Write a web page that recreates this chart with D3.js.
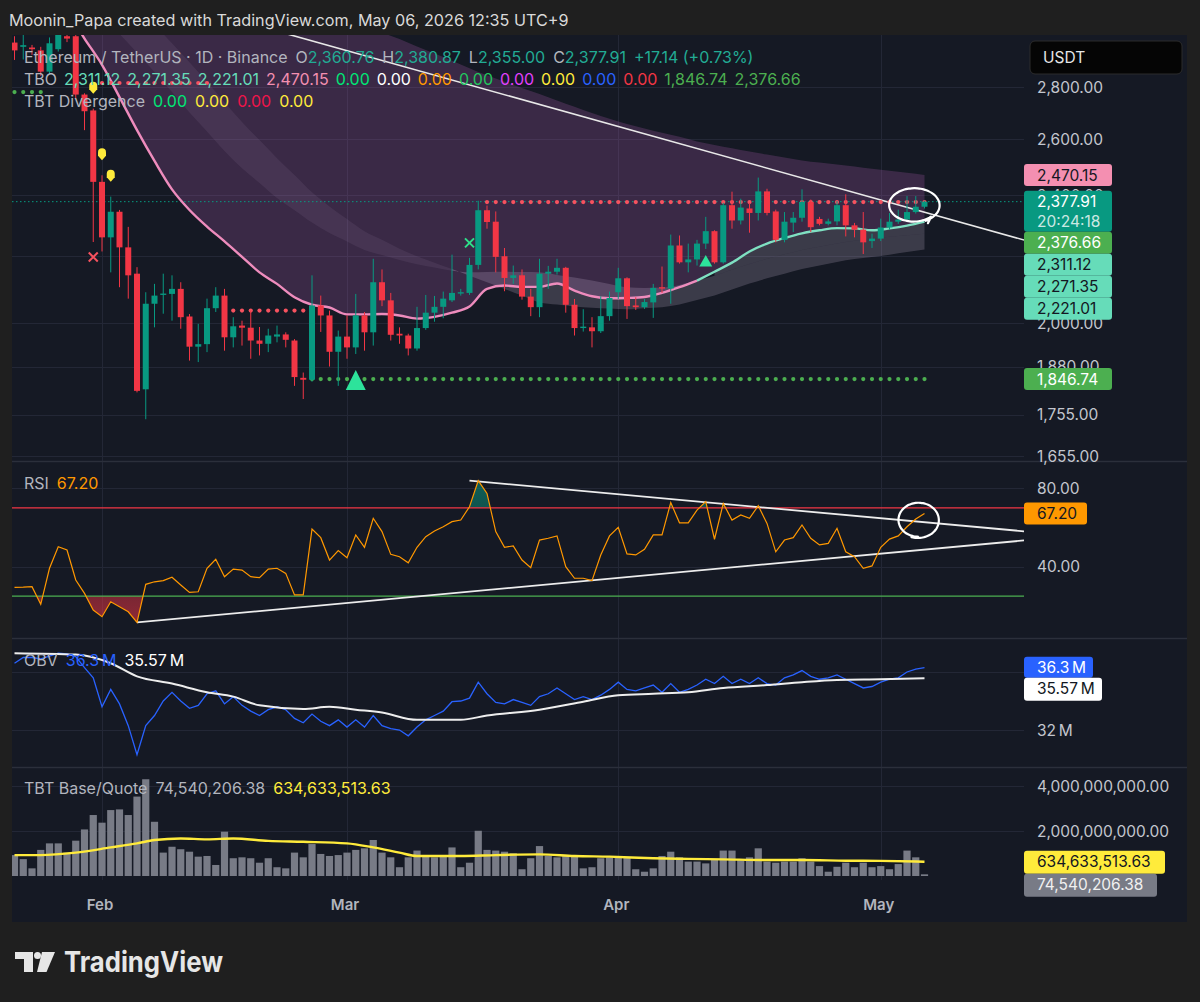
<!DOCTYPE html>
<html><head><meta charset="utf-8">
<script src="https://cdn.jsdelivr.net/npm/d3@7/dist/d3.min.js"></script>
<style>
html,body{margin:0;padding:0;background:#1f1f1f;}
svg{display:block;font-family:Inter,"Noto Sans",sans-serif;}
</style></head><body>
<svg id="chart" width="1200" height="1002"></svg>
<script>
// ================= DATA =================
const firstCandleDate = "2026-01-22T00:00:00Z";
const candleOpen = [2983,2965,2962,2950,2862,2955,3010,3010,2770,2708,
 2446,2260,2344,2228,2146,1820,2056,2082,2085,2100,
 2019,1934,1941,2043,2080,1960,1993,1987,1951,1942,
 1962,1968,1951,1850,1845,2051,2022,1920,1962,1932,
 2022,1974,2120,2066,1970,1965,1929,1986,2030,2047,
 2066,2086,2088,2173,2349,2311,2200,2133,2141,2077,
 2046,2146,2152,2164,2053,1986,1988,1977,2020,2090,
 2132,2051,2046,2060,2105,2101,2234,2181,2190,2240,
 2280,2181,2366,2315,2355,2340,2413,2345,2252,2308,
 2324,2377,2320,2304,2312,2366,2299,2285,2248,2256,
 2292,2311,2318,2343,2360.76];
const candleHigh = [3010,3030,2973,2965,3005,3060,3040,3050,2775,2715,
 2469,2395,2350,2294,2166,2090,2115,2146,2141,2120,
 2026,1998,2071,2105,2100,2017,2007,2036,1989,1984,
 1993,1974,1955,1864,2141,2080,2036,1979,2022,2085,
 2032,2192,2159,2088,1988,1970,2047,2082,2079,2092,
 2205,2100,2195,2381,2365,2345,2226,2171,2159,2100,
 2192,2170,2192,2167,2070,2040,2017,2078,2092,2164,
 2135,2075,2070,2115,2168,2269,2266,2240,2252,2327,
 2283,2374,2412,2388,2374,2461,2422,2351,2343,2343,
 2420,2385,2327,2321,2380,2403,2307,2343,2272,2321,
 2340,2351,2397,2397,2380.87];
const candleLow = [2910,2912,2931,2845,2855,2945,2985,2755,2633,2245,
 2215,2150,2105,2071,1812,1744,1988,2027,2007,1984,
 1896,1892,1919,2032,1923,1932,1937,1901,1910,1919,
 1946,1932,1829,1795,1840,1975,1880,1829,1901,1914,
 1923,1937,2049,1951,1942,1910,1923,1981,2004,2014,
 2061,2080,2082,2159,2288,2150,2093,2115,2068,2020,
 2017,2100,2143,2030,1965,1976,1932,1972,2007,2070,
 2012,2038,2041,2015,2088,2056,2177,2150,2171,2223,
 2177,2177,2288,2302,2275,2315,2332,2244,2244,2277,
 2311,2277,2299,2299,2299,2263,2260,2207,2226,2248,
 2285,2304,2315,2338,2355.00];
const candleClose = [2950,2972,2955,2862,2980,3030,3000,2770,2705,2446,
 2260,2344,2228,2141,1816,2056,2080,2086,2100,2017,
 1934,1941,2043,2080,1960,1991,1987,1951,1942,1965,
 1968,1953,1852,1845,2051,2022,1920,1962,1932,2022,
 1974,2120,2066,1967,1965,1929,1986,2030,2047,2071,
 2088,2090,2173,2349,2310,2198,2133,2141,2077,2046,
 2146,2152,2164,2053,1986,1990,1977,2020,2073,2132,
 2049,2046,2061,2103,2101,2234,2181,2190,2240,2280,
 2181,2366,2315,2358,2340,2413,2340,2252,2311,2324,
 2377,2293,2304,2312,2366,2299,2285,2244,2256,2292,
 2311,2318,2343,2360.76,2377.91];
// TBT Base/Quote volume, in billions
const baseQuoteVolumeB = [0.93,0.75,0.34,1.16,1.45,1.45,1.04,1.57,2.07,2.71,
 2.37,2.93,2.96,2.71,3.53,4.30,2.41,1.04,1.30,1.19,
 1.08,0.86,0.89,0.49,1.97,0.79,0.83,0.79,0.59,0.79,
 0.39,0.34,1.04,0.83,1.42,0.98,0.89,0.93,1.04,1.16,
 1.23,1.60,1.04,0.83,0.39,0.83,1.13,0.93,0.83,0.93,
 1.27,0.39,0.59,2.01,1.16,1.13,1.08,1.01,0.30,0.79,
 1.33,0.89,0.83,0.93,0.86,0.34,0.39,0.79,0.83,0.89,
 0.83,0.30,0.19,0.34,0.89,1.08,0.83,0.64,0.64,0.56,
 0.71,1.13,1.13,0.71,0.83,1.23,0.64,0.59,0.64,0.64,
 0.79,0.64,0.44,0.19,0.41,0.59,0.39,0.59,0.39,0.44,
 0.30,0.53,1.13,0.83,0.0745402];
const rsiValues = [29.5,29.6,29.8,20.8,39.2,50.2,48.5,33.2,26.4,17.9,
 14.5,22.1,19.6,17.0,11.6,31.0,32.3,32.9,34.6,30.7,
 26.9,27.2,39.2,43.8,34.9,38.8,38.3,34.9,34.4,38.8,
 39.2,36.6,25.6,25.6,59.2,54.8,43.4,48.2,44.6,56.2,
 49.9,64.7,57.9,46.3,45.1,42.0,49.9,55.3,58.2,60.4,
 63.0,63.8,70.6,83.9,77.4,57.9,49.9,50.6,43.4,39.5,
 53.6,54.5,55.7,40.0,34.1,34.1,32.9,46.0,55.7,60.1,
 46.5,46.0,48.9,56.2,56.2,72.7,62.4,62.4,68.9,73.2,
 54.0,72.3,63.8,66.4,64.7,71.1,62.1,47.6,53.6,54.8,
 61.3,54.5,51.1,51.9,59.6,47.6,45.1,39.2,40.4,49.9,
 54.1,55.7,60.4,64.3,67.2];
// OBV in millions
const obvValuesM = [36.6,37.0,37.0,36.9,37.1,37.3,37.25,37.06,36.3,35.6,
 33.6,34.8,33.8,32.3,30.3,32.3,33.0,34.0,34.6,34.0,
 33.5,33.7,34.5,34.7,33.8,34.3,33.7,33.3,33.0,33.4,
 33.6,33.4,32.8,32.5,33.1,32.6,32.3,32.7,32.2,32.7,
 32.2,33.0,32.3,32.1,32.0,31.6,32.2,32.7,33.0,33.3,
 33.95,34.0,34.2,35.3,34.5,33.9,33.8,34.1,33.9,33.7,
 34.3,34.5,34.9,34.5,34.1,34.3,34.1,34.4,34.8,35.3,
 34.8,34.7,34.9,35.1,34.6,35.2,34.6,34.8,35.1,35.5,
 35.2,35.7,35.2,35.5,35.2,35.6,35.2,35.1,35.6,35.8,
 36.1,35.7,35.5,35.6,35.8,35.5,35.2,34.9,35.0,35.3,
 35.5,35.6,36.0,36.2,36.3];
// indicator lines sampled every 2 days; day offsets from 2026-02-01
const lineRefDate = "2026-02-01T00:00:00Z";
const cloudDays = [-10,-8,-6,-4,-2,0,2,4,6,8,10,12,14,16,18,20,22,24,26,28,30,32,34,36,38,40,42,44,46,48,50,52,54,56,58,60,62,64,66,68,70,72,74,76,78,80,82,84,86,88,90,92,94];
const tboFast = [3350,3280,3200,3120,3000,2890,2760,2633,2520,2420,
 2350,2295,2247,2198,2150,2115,2075,2053,2045,2025,
 2025,2026,2022,2013,2018,2030,2048,2100,2110,2106,
 2106,2116,2095,2078,2072,2073,2076,2088,2105,2125,
 2152,2180,2215,2240,2258,2273,2283,2290,2289,2283,
 2289,2298,2311.12];
const tboMid = [3400,3340,3280,3220,3160,3100,3020,2940,2860,2780,
 2700,2628,2556,2494,2442,2390,2349,2308,2274,2247,
 2220,2204,2188,2175,2165,2155,2150,2151,2152,2151,
 2150,2142,2134,2125,2115,2105,2103,2104,2112,2126,
 2140,2158,2176,2192,2206,2220,2230,2240,2249,2256,
 2262,2267,2271.35];
const tboSlow = [3600,3540,3480,3420,3360,3300,3220,3140,3060,2980,
 2900,2820,2740,2664,2596,2530,2470,2410,2362,2320,
 2280,2252,2224,2200,2180,2160,2140,2120,2100,2080,
 2060,2054,2048,2044,2042,2040,2043,2046,2054,2067,
 2080,2098,2116,2132,2146,2160,2171,2182,2191,2198,
 2205,2213,2221.01];
const tboTop = [3950,3900,3850,3800,3750,3700,3650,3600,3550,3500,
 3450,3400,3350,3300,3260,3220,3180,3140,3110,3080,
 3050,3025,2998,2966,2937,2907,2876,2847,2821,2796,
 2772,2747,2722,2698,2676,2656,2639,2623,2608,2591,
 2578,2566,2554,2543,2532,2522,2514,2507,2500,2492,
 2485,2478,2470.15];
const fastTurnDay = 68;
const obvMaDays = [-10,-3,1,4,8,12,15,18,23,26,29,32,36,41,44,50,55,59,63,67,71,76,80,84,89,94];
const obvMaValuesM = [37.3,37.2,36.6,35.7,35.2,34.6,34.3,33.7,33.45,33.6,33.4,33.2,32.7,32.7,33.0,33.4,33.95,34.4,34.5,34.6,34.9,35.1,35.3,35.45,35.5,35.57];
const volMaDays = [-10,-7,-3,1,4,6,9,12,15,19,23,28,31,34,36,41,45,50,54,58,63,67,71,76,80,85,89,94];
const volMaValuesB = [0.93,0.93,1.04,1.27,1.45,1.6,1.67,1.63,1.67,1.56,1.52,1.45,1.27,1.04,0.89,0.89,0.93,0.96,0.89,0.86,0.79,0.76,0.74,0.71,0.71,0.68,0.67,0.63463];
const levelDots = [
  {price:2780, from:-10, to:-7, color:"#4caf50"},
  {price:2816, from:0, to:12, color:"#f7525f"},
  {price:2036, from:15, to:23, color:"#f7525f"},
  {price:1846.74, from:24, to:94, color:"#4caf50"},
  {price:2376.66, from:44, to:94, color:"#f7525f"}
];
const warnMarkerDays = [-1,0,1];
const sellCrossDays = [-1];
const buyCrossDays = [42];
const bigTriangleDay = 29;
const smallTriangleDays = [69];
const priceTrend = [["2026-01-20T00:00:00Z",3390],["2026-05-20T00:00:00Z",2231]];
const rsiTrendUpper = [["2026-03-15T00:00:00Z",83.9],["2026-05-17T09:00:00Z",58.06]];
const rsiTrendLower = [["2026-02-05T00:00:00Z",11.6],["2026-05-17T09:00:00Z",53.4]];
const priceCircle = {date:"2026-05-04T19:00:00Z", value:2366};
const rsiCircle = {date:"2026-05-05T07:00:00Z", value:63.8};
const priceTicks = [2800,2600,2400,2200,2000,1880,1755,1655];
const rsiTicks = [80,40];
const rsiLevels = [{v:70,c:"#f23645"},{v:25,c:"#4caf50"}];
const obvTicks = [32e6,36e6];
const volTicks = [4e9,2e9];
const ticksUnderLabels = [2200,36e6]; // grid only; their labels sit under the value tags
const monthTicks = ["2026-02-01T00:00:00Z","2026-03-01T00:00:00Z","2026-04-01T00:00:00Z","2026-05-01T00:00:00Z"];
const monthLabels = ["Feb","Mar","Apr","May"];
const lastPrice = 2377.91, countdown = "20:24:18";
const priceLabels = [
  {v:2470.15,bg:"#f48fb1",fg:"#131722"},
  {v:2377.91,bg:"#089981",fg:"#ffffff",sub:countdown},
  {v:2376.66,bg:"#4caf50",fg:"#ffffff"},
  {v:2311.12,bg:"#66dcb9",fg:"#131722"},
  {v:2271.35,bg:"#66dcb9",fg:"#131722"},
  {v:2221.01,bg:"#66dcb9",fg:"#131722"},
  {v:1846.74,bg:"#4caf50",fg:"#ffffff"}
];

// ================= LAYOUT =================
const PL=12, PR=1024, AR=1187;
const P = {main:[35,461], rsi:[462,638], obv:[639,767], vol:[768,880]};
const UP="#089981", DN="#f23645", BG="#151924", GRID="#232736";

const svg = d3.select("#chart");
const defs = svg.append("defs");
function clip(id,y0,y1){defs.append("clipPath").attr("id",id).append("rect").attr("x",PL).attr("y",y0).attr("width",PR-PL).attr("height",y1-y0);}
clip("cMain",P.main[0],P.main[1]); clip("cRsi",P.rsi[0],P.rsi[1]); clip("cObv",P.obv[0],P.obv[1]); clip("cVol",P.vol[0],P.vol[1]);

const ref = new Date(lineRefDate);
const dayDate = d => d3.utcDay.offset(ref, d);
const candleDates = candleOpen.map((_,i)=>d3.utcDay.offset(new Date(firstCandleDate), i));

const x = d3.scaleUtc().domain([new Date(monthTicks[0]), new Date(monthTicks[3])]).range([102, 880.75]);
const yP = d3.scaleLog().domain([2800,1655]).range([87,456]);
const yR = d3.scaleLinear().domain([40,80]).range([566.7,488.3]);
const yO = d3.scaleLinear().domain([32e6,36e6]).range([730,672]);
const yV = d3.scaleLinear().domain([0,4e9]).range([876,786]);

svg.append("rect").attr("width",1200).attr("height",1002).attr("fill","#1f1f1f");
svg.append("rect").attr("x",PL).attr("y",35).attr("width",AR-PL).attr("height",922-35).attr("fill",BG);

// grid
const grid = svg.append("g").attr("stroke",GRID).attr("stroke-width",1);
monthTicks.forEach(m=>{const xx=Math.round(x(new Date(m)))+0.5; grid.append("line").attr("x1",xx).attr("x2",xx).attr("y1",35).attr("y2",880);});
priceTicks.forEach(t=>{const yy=Math.round(yP(t))+0.5; grid.append("line").attr("x1",PL).attr("x2",PR).attr("y1",yy).attr("y2",yy);});
rsiTicks.forEach(t=>{const yy=Math.round(yR(t))+0.5; grid.append("line").attr("x1",PL).attr("x2",PR).attr("y1",yy).attr("y2",yy);});
obvTicks.forEach(t=>{const yy=Math.round(yO(t))+0.5; grid.append("line").attr("x1",PL).attr("x2",PR).attr("y1",yy).attr("y2",yy);});
volTicks.forEach(t=>{const yy=Math.round(yV(t))+0.5; grid.append("line").attr("x1",PL).attr("x2",PR).attr("y1",yy).attr("y2",yy);});

// ================= MAIN PANE =================
const gm = svg.append("g").attr("clip-path","url(#cMain)");
const cloud = cloudDays.map((d,i)=>({date:dayDate(d), day:d, fast:tboFast[i], mid:tboMid[i], slow:tboSlow[i], top:tboTop[i]}));
const cv = d3.curveMonotoneX;
gm.append("path").datum(cloud).attr("fill","rgba(196,104,196,0.21)")
  .attr("d", d3.area().curve(cv).x(d=>x(d.date)).y0(d=>yP(d.fast)).y1(d=>yP(d.top)));
// mid/slow band: faint while bearish (slow above mid), brighter when bullish
gm.append("path").datum(cloud).attr("fill","rgba(215,195,225,0.08)")
  .attr("d", d3.area().curve(cv).defined(d=>d.slow>=d.mid-12).x(d=>x(d.date)).y0(d=>yP(d.slow)).y1(d=>yP(d.mid)));
gm.append("path").datum(cloud).attr("fill","rgba(215,195,225,0.20)")
  .attr("d", d3.area().curve(cv).defined(d=>d.mid>=d.slow-12).x(d=>x(d.date)).y0(d=>yP(d.slow)).y1(d=>yP(d.mid)));
gm.append("path").datum(cloud).attr("fill","rgba(215,195,225,0.20)")
  .attr("d", d3.area().curve(cv).defined(d=>d.fast>=d.mid).x(d=>x(d.date)).y0(d=>yP(d.mid)).y1(d=>yP(d.fast)));

// current price dotted line
gm.append("line").attr("x1",PL).attr("x2",PR).attr("y1",yP(lastPrice)).attr("y2",yP(lastPrice))
  .attr("stroke",UP).attr("stroke-width",1).attr("stroke-dasharray","1.5,2.5");

// trendline
gm.append("line").attr("x1",x(new Date(priceTrend[0][0]))).attr("y1",yP(priceTrend[0][1]))
  .attr("x2",x(new Date(priceTrend[1][0]))).attr("y2",yP(priceTrend[1][1]))
  .attr("stroke","#e8e8e8").attr("stroke-width",1.6);

// fast line
const fl = d3.line().curve(cv).x(d=>x(d.date)).y(d=>yP(d.fast));
gm.append("path").datum(cloud.filter(d=>d.day<=fastTurnDay)).attr("fill","none").attr("stroke","#ee8cbd").attr("stroke-width",2.4).attr("d",fl);
gm.append("path").datum(cloud.filter(d=>d.day>=fastTurnDay)).attr("fill","none").attr("stroke","#7fe0c2").attr("stroke-width",2.4).attr("d",fl);

// level dots
levelDots.forEach(l=>{
  d3.range(l.from,l.to+1).forEach(d=>{
    gm.append("circle").attr("cx",x(dayDate(d))).attr("cy",yP(l.price)).attr("r",2.1).attr("fill",l.color);
  });
});

// candles
const candles = candleOpen.map((o,i)=>({date:candleDates[i],o,h:candleHigh[i],l:candleLow[i],c:candleClose[i]}));
const cg = gm.append("g");
candles.forEach(k=>{
  const col = k.c>=k.o?UP:DN, cx=x(k.date);
  cg.append("line").attr("x1",cx).attr("x2",cx).attr("y1",yP(k.h)).attr("y2",yP(k.l)).attr("stroke",col).attr("stroke-width",1);
  const y1=yP(Math.max(k.o,k.c)), y2=yP(Math.min(k.o,k.c));
  cg.append("rect").attr("x",cx-3).attr("width",6).attr("y",y1).attr("height",Math.max(1.2,y2-y1)).attr("fill",col);
});
const byDay = d => candles[d+10];

// markers
warnMarkerDays.forEach(d=>{
  const k=byDay(d), cx=x(k.date), cy=yP(k.h)-21;
  gm.append("path").attr("d",`M${cx-4},${cy-2} a4,4 0 0 1 8,0 v3.5 l-4,4.5 l-4,-4.5 z`).attr("fill","#ffeb3b");
});
sellCrossDays.forEach(d=>{
  const k=byDay(d), cx=x(k.date), cy=yP(k.l)+15;
  gm.append("path").attr("d",`M${cx-4.5},${cy-4.5}L${cx+4.5},${cy+4.5}M${cx+4.5},${cy-4.5}L${cx-4.5},${cy+4.5}`).attr("stroke","#f7525f").attr("stroke-width",2);
});
buyCrossDays.forEach(d=>{
  const k=byDay(d), cx=x(k.date), cy=yP(k.h)-15;
  gm.append("path").attr("d",`M${cx-4.5},${cy-4.5}L${cx+4.5},${cy+4.5}M${cx+4.5},${cy-4.5}L${cx-4.5},${cy+4.5}`).attr("stroke","#2ee08a").attr("stroke-width",2);
});
{
  const k=byDay(bigTriangleDay), cx=x(k.date), cy=yP(levelDots[3].price)+1;
  gm.append("path").attr("d",`M${cx},${cy-10}L${cx+10},${cy+10}L${cx-10},${cy+10}Z`).attr("fill","#2de39b");
}
smallTriangleDays.forEach(d=>{
  const k=byDay(d), cx=x(k.date), cy=yP(k.l)+12;
  gm.append("path").attr("d",`M${cx},${cy-6}L${cx+6.5},${cy+5.5}L${cx-6.5},${cy+5.5}Z`).attr("fill","#2de39b");
});

// hand-drawn loops
function handLoop(g,cx,cy,rx,ry,start,tail){
  const pts=[];
  for(let t=0;t<=2*Math.PI*1.06;t+=0.12){
    const a=start-t, k=1-0.07*t/(2*Math.PI);
    pts.push([cx+rx*k*Math.cos(a), cy+ry*k*Math.sin(a)]);
  }
  if(tail) pts.push(tail);
  g.append("path").attr("d",d3.line().curve(d3.curveCatmullRom)(pts)).attr("fill","none").attr("stroke","#ffffff").attr("stroke-width",2.2).attr("stroke-linecap","round");
}
{
  const cx=x(new Date(priceCircle.date)), cy=yP(priceCircle.value);
  handLoop(gm,cx,cy,26,17.5,1.1,[cx+14,cy+18]);
}

// ================= RSI =================
const gr = svg.append("g").attr("clip-path","url(#cRsi)");
const rsiData = rsiValues.map((v,i)=>({date:candleDates[i],v}));
const gradR = defs.append("linearGradient").attr("id","gRed").attr("x1",0).attr("x2",0).attr("y1",0).attr("y2",1);
gradR.append("stop").attr("offset",0).attr("stop-color","#f23645").attr("stop-opacity",0.05);
gradR.append("stop").attr("offset",1).attr("stop-color","#f23645").attr("stop-opacity",0.55);
const gradG = defs.append("linearGradient").attr("id","gGreen").attr("x1",0).attr("x2",0).attr("y1",0).attr("y2",1);
gradG.append("stop").attr("offset",0).attr("stop-color","#089981").attr("stop-opacity",0.55);
gradG.append("stop").attr("offset",1).attr("stop-color","#089981").attr("stop-opacity",0.08);
defs.append("clipPath").attr("id","cLow").append("rect").attr("x",PL).attr("y",yR(25)).attr("width",PR-PL).attr("height",P.rsi[1]-yR(25));
defs.append("clipPath").attr("id","cHigh").append("rect").attr("x",PL).attr("y",P.rsi[0]).attr("width",PR-PL).attr("height",yR(70)-P.rsi[0]);
gr.append("g").attr("clip-path","url(#cLow)").append("path").datum(rsiData).attr("fill","url(#gRed)")
  .attr("d",d3.area().x(d=>x(d.date)).y0(yR(25)).y1(d=>yR(d.v)));
gr.append("g").attr("clip-path","url(#cHigh)").append("path").datum(rsiData).attr("fill","url(#gGreen)")
  .attr("d",d3.area().x(d=>x(d.date)).y0(yR(70)).y1(d=>yR(d.v)));
rsiLevels.forEach(l=>gr.append("line").attr("x1",PL).attr("x2",PR).attr("y1",yR(l.v)).attr("y2",yR(l.v)).attr("stroke",l.c).attr("stroke-width",1.2));
[rsiTrendUpper,rsiTrendLower].forEach(t=>{
  gr.append("line").attr("x1",x(new Date(t[0][0]))).attr("y1",yR(t[0][1])).attr("x2",x(new Date(t[1][0]))).attr("y2",yR(t[1][1]))
    .attr("stroke","#ececec").attr("stroke-width",1.8);
});
gr.append("path").datum(rsiData).attr("fill","none").attr("stroke","#ff9800").attr("stroke-width",1.2)
  .attr("d",d3.line().x(d=>x(d.date)).y(d=>yR(d.v)));
{
  const cx=x(new Date(rsiCircle.date)), cy=yR(rsiCircle.value);
  handLoop(gr,cx,cy,21,18,1.9,[cx-4,cy+17]);
}

// ================= OBV =================
const go = svg.append("g").attr("clip-path","url(#cObv)");
go.append("path").datum(obvValuesM.map((v,i)=>({date:candleDates[i],v:v*1e6}))).attr("fill","none").attr("stroke","#2962ff").attr("stroke-width",1.3)
  .attr("d",d3.line().x(d=>x(d.date)).y(d=>yO(d.v)));
go.append("path").datum(obvMaDays.map((d,i)=>({date:dayDate(d),v:obvMaValuesM[i]*1e6}))).attr("fill","none").attr("stroke","#ededed").attr("stroke-width",2)
  .attr("d",d3.line().curve(cv).x(d=>x(d.date)).y(d=>yO(d.v)));

// ================= VOLUME =================
const gv = svg.append("g").attr("clip-path","url(#cVol)");
baseQuoteVolumeB.forEach((v,i)=>{
  const cx=x(candleDates[i]), yy=yV(v*1e9);
  gv.append("rect").attr("x",cx-3.6).attr("width",7.2).attr("y",yy).attr("height",yV(0)-yy).attr("fill","#787b86");
});
gv.append("path").datum(volMaDays.map((d,i)=>({date:dayDate(d),v:volMaValuesB[i]*1e9}))).attr("fill","none").attr("stroke","#ffeb3b").attr("stroke-width",2.4)
  .attr("d",d3.line().curve(cv).x(d=>x(d.date)).y(d=>yV(d.v)));

// separators
[P.main[1],P.rsi[1],P.obv[1]].forEach(yy=>svg.append("line").attr("x1",PL).attr("x2",AR).attr("y1",yy+0.5).attr("y2",yy+0.5).attr("stroke","#2b2f3b").attr("stroke-width",1.5));

// ================= AXIS LABELS =================
const AXT="#c3c6ce", FS=15.5;
const ax = svg.append("g").attr("font-size",FS).attr("fill",AXT);
const f2 = d3.format(",.2f");
const shown = t => !ticksUnderLabels.includes(t);
priceTicks.filter(shown).forEach(t=>ax.append("text").attr("x",1037).attr("y",yP(t)).attr("dy","0.36em").text(f2(t)));
rsiTicks.forEach(t=>ax.append("text").attr("x",1037).attr("y",yR(t)).attr("dy","0.36em").text(f2(t)));
obvTicks.filter(shown).forEach(t=>ax.append("text").attr("x",1037).attr("y",yO(t)).attr("dy","0.36em").text((t/1e6)+"\u2009M"));
volTicks.forEach(t=>ax.append("text").attr("x",1037).attr("y",yV(t)).attr("dy","0.36em").text(f2(t)));

function box(y0,h,w,bg,lines){
  const g=svg.append("g");
  g.append("rect").attr("x",PR).attr("y",y0).attr("width",w).attr("height",h).attr("rx",3).attr("fill",bg.c);
  lines.forEach((ln,i)=>g.append("text").attr("x",1037).attr("y",y0+11+i*19.5).attr("dy","0.36em").attr("font-size",FS).attr("fill",ln.c).attr("fill-opacity",ln.o||1).text(ln.t));
}
let prevBottom=-1e9;
priceLabels.map(l=>({...l,y:yP(l.v)})).sort((a,b)=>a.y-b.y).forEach(l=>{
  const h=l.sub?41:22; let top=Math.max(l.y-11,prevBottom);
  const lines=[{t:f2(l.v),c:l.fg}]; if(l.sub) lines.push({t:l.sub,c:l.fg,o:0.8});
  box(top,h,88,{c:l.bg},lines); prevBottom=top+h;
});
box(yR(rsiValues[rsiValues.length-1])-11,22,63,{c:"#ff9800"},[{t:rsiValues[rsiValues.length-1].toFixed(2),c:"#131722"}]);
{
  const obvLast=obvValuesM[obvValuesM.length-1], maLast=obvMaValuesM[obvMaValuesM.length-1];
  const t1=yO(obvLast*1e6)-11; box(t1,21,69,{c:"#2962ff"},[{t:obvLast+"\u2009M",c:"#ffffff"}]);
  box(Math.max(yO(maLast*1e6)-11,t1+21),23,78,{c:"#ffffff"},[{t:maLast+"\u2009M",c:"#131722"}]);
  const vMa=volMaValuesB[volMaValuesB.length-1]*1e9, vLast=baseQuoteVolumeB[baseQuoteVolumeB.length-1]*1e9;
  const t2=yV(vMa)-11; box(t2,23,141,{c:"#ffeb3b"},[{t:"634,633,513.63",c:"#131722"}]);
  box(Math.max(yV(vLast)-11,t2+23),23,133,{c:"#787b86"},[{t:"74,540,206.38",c:"#f0f0f0"}]);
}
// USDT
svg.append("rect").attr("x",1030).attr("y",41).attr("width",152).attr("height",33).attr("rx",5).attr("fill","#050505").attr("stroke","#2c2c2c");
svg.append("text").attr("x",1043).attr("y",57.5).attr("dy","0.36em").attr("font-size",FS).attr("fill","#e6e6e6").text("USDT");

// time labels
monthTicks.forEach((m,i)=>svg.append("text").attr("x",x(new Date(m))-2).attr("y",905).attr("dy","0.36em").attr("text-anchor","middle")
  .attr("font-size",15).attr("font-weight",600).attr("fill","#b2b5be").text(monthLabels[i]));

// ================= LEGENDS =================
const GRY="#b2b5be";
function rich(y,segs,size){
  let cx=24;
  segs.forEach(s=>{
    cx+=(s.g||0);
    const t=svg.append("text").attr("x",cx).attr("y",y).attr("dy","0.36em").attr("font-size",size||16).attr("fill",s.c).text(s.t);
    cx+=t.node().getComputedTextLength();
  });
}
const TL="#22ab94";
rich(57,[{t:"Ethereum / TetherUS · 1D · Binance",c:GRY},{t:"O",c:GRY,g:8},{t:"2,360.76",c:TL},{t:"H",c:GRY,g:8},{t:"2,380.87",c:TL},{t:"L",c:GRY,g:8},{t:"2,355.00",c:TL},{t:"C",c:GRY,g:8},{t:"2,377.91",c:TL},{t:"+17.14 (+0.73%)",c:TL,g:8}]);
rich(79,[{t:"TBO",c:GRY},{t:"2,311.12",c:"#66dcb9",g:7},{t:"2,271.35",c:"#66dcb9",g:7},{t:"2,221.01",c:"#66dcb9",g:7},{t:"2,470.15",c:"#f48fb1",g:7},
  {t:"0.00",c:"#00e676",g:7},{t:"0.00",c:"#ffffff",g:7},{t:"0.00",c:"#ff9800",g:7},{t:"0.00",c:"#22c55e",g:7},{t:"0.00",c:"#e040fb",g:7},{t:"0.00",c:"#ffeb3b",g:7},{t:"0.00",c:"#2962ff",g:7},{t:"0.00",c:"#f23645",g:7},{t:"1,846.74",c:"#4caf50",g:7},{t:"2,376.66",c:"#4caf50",g:7}]);
rich(101,[{t:"TBT Divergence",c:GRY},{t:"0.00",c:"#00e676",g:8},{t:"0.00",c:"#ffeb3b",g:8},{t:"0.00",c:"#f0144a",g:8},{t:"0.00",c:"#ffeb3b",g:8}]);
rich(483,[{t:"RSI",c:GRY},{t:"67.20",c:"#ff9800",g:8}]);
rich(660,[{t:"OBV",c:GRY},{t:"36.3\u2009M",c:"#2962ff",g:8},{t:"35.57\u2009M",c:"#ffffff",g:8}]);
rich(788,[{t:"TBT Base/Quote",c:GRY},{t:"74,540,206.38",c:GRY,g:8},{t:"634,633,513.63",c:"#ffeb3b",g:8}]);

// header & footer
svg.append("text").attr("x",9).attr("y",20).attr("dy","0.36em").attr("font-size",16.2).attr("fill","#d9d9d9").text("Moonin_Papa created with TradingView.com, May 06, 2026 12:35 UTC+9");
const lg=svg.append("g").attr("fill","#e6e6e6");
lg.append("path").attr("d","M15,952H33V972H24V959H15Z");
lg.append("circle").attr("cx",37.5).attr("cy",955.5).attr("r",3.5);
lg.append("path").attr("d","M42,952H55L46.5,972H37Z");
lg.append("text").attr("x",64).attr("y",972).attr("font-size",28).attr("font-weight",700).attr("textLength",159).attr("lengthAdjust","spacingAndGlyphs").text("TradingView");
</script>
</body></html>
